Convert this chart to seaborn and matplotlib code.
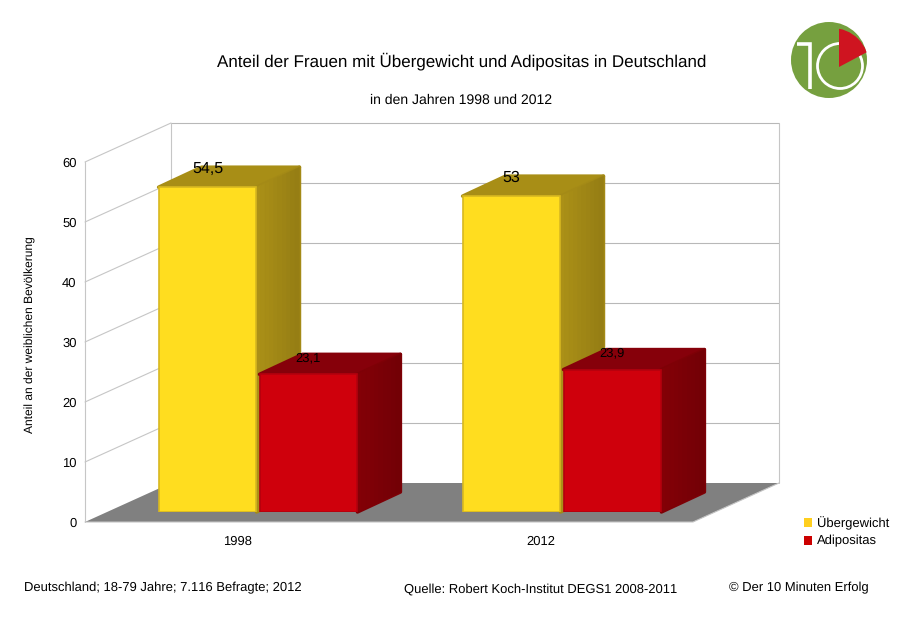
"""
Anteil der Frauen mit Uebergewicht und Adipositas, 3D look bars
"""

import numpy as np
import pandas as pd
import matplotlib.pyplot as plt
from matplotlib.colors import to_rgb
from matplotlib.patches import Circle, Patch, Polygon, Wedge
import seaborn as sns

# Chart data
years = ['1998', '2012']
groups = ['Übergewicht', 'Adipositas']
uebergewicht = [54.5, 53]
adipositas = [23.1, 23.9]
value_labels = ['54,5', '53', '23,1', '23,9']
y_ticks = [0, 10, 20, 30, 40, 50, 60]

title = 'Anteil der Frauen mit Übergewicht und Adipositas in Deutschland'
subtitle = 'in den Jahren 1998 und 2012'
y_label = 'Anteil an der weiblichen Bevölkerung'
note_left = 'Deutschland; 18-79 Jahre; 7.116 Befragte; 2012'
note_mid = 'Quelle: Robert Koch-Institut DEGS1 2008-2011'
note_right = '© Der 10 Minuten Erfolg'

# Colours
front_colors = ['#ffdd1f', '#cf000c']
edge_colors = ['#d8b820', '#b4000e']
top_colors = ['#a88e16', '#86000a']
side_colors = ['#a48a16', '#7e0006']
legend_colors = ['#ffcf1f', '#cc0000']
wall_color = '#b8b8b8'
floor_color = '#808080'

# Figure size in pixels
W, H = 900, 622

sns.set_theme(style='white')
plt.rcParams['font.family'] = ['Liberation Sans', 'DejaVu Sans']
plt.rcParams['text.hinting'] = 'none'
plt.rcParams['text.hinting_factor'] = 1

df = pd.DataFrame({'Jahr': years * 2,
                   'Gruppe': np.repeat(groups, len(years)),
                   'Anteil': uebergewicht + adipositas})

fig = plt.figure(figsize=(W / 100, H / 100), dpi=100, facecolor='white')


def px_rect(left, top, right, bottom):
    'Axes rectangle from pixel edges'
    return [left / W, 1 - bottom / H, (right - left) / W, (bottom - top) / H]


#%%

# Canvas in pixel units for the walls, floor and logo
canvas = fig.add_axes([0, 0, 1, 1], zorder=0)
canvas.set_xlim(0, W)
canvas.set_ylim(H, 0)
canvas.axis('off')

x0, x1, y_base = 85, 693, 522
unit = 6
wall_dx, wall_dy = 86, 39

# Floor
canvas.add_patch(Polygon([(x0, y_base), (x1, y_base),
                          (x1 + wall_dx, y_base - wall_dy),
                          (x0 + wall_dx, y_base - wall_dy)],
                         facecolor=floor_color, edgecolor='none'))

# Wall lines for every tick
for t in y_ticks[1:]:
    y = y_base - t * unit
    canvas.plot([x0, x0 + wall_dx], [y, y - wall_dy], color='#c6c6c6', lw=0.8)
    canvas.plot([x0 + wall_dx, x1 + wall_dx], [y - wall_dy, y - wall_dy],
                color=wall_color, lw=0.8)

# Wall verticals and base line
top = y_base - y_ticks[-1] * unit
canvas.plot([x0, x0], [y_base, top], color='#c6c6c6', lw=0.8)
for x in [x0 + wall_dx, x1 + wall_dx]:
    canvas.plot([x, x], [y_base - wall_dy, top - wall_dy], color='#c6c6c6', lw=0.8)
canvas.plot([x0, x1, x1 + wall_dx], [y_base, y_base, y_base - wall_dy],
            color='#c4c4c4', lw=0.8)

#%%

# Front plane holds the axis labels
ax_front = fig.add_axes(px_rect(x0, top, x1, y_base), zorder=1)
ax_front.patch.set_alpha(0)
ax_front.set_xlim(-0.5, 1.5)
ax_front.set_ylim(y_ticks[0], y_ticks[-1])
ax_front.set_xticks(range(len(years)), years)
ax_front.set_yticks(y_ticks)
ax_front.tick_params(axis='both', length=0, labelsize=9.4, labelcolor='black')
ax_front.tick_params(axis='x', pad=9.5)
ax_front.tick_params(axis='y', pad=6)
sns.despine(ax=ax_front, left=True, bottom=True)

#%%

# Bars sit in the middle of the floor depth
bar_unit = 5.96
ax_bars = fig.add_axes(px_rect(106, 512 - y_ticks[-1] * bar_unit, 714, 512), zorder=2)
ax_bars.patch.set_alpha(0)
sns.barplot(data=df, x='Jahr', y='Anteil', hue='Gruppe', order=years,
            hue_order=groups, palette=front_colors, width=0.664, gap=0.03,
            saturation=1, legend=False, ax=ax_bars)
ax_bars.set_xlim(-0.5, 1.5)
ax_bars.set_ylim(y_ticks[0], y_ticks[-1])
ax_bars.axis('off')

# Depth of a bar, in data units
depth_x = 43 / 304
depth_y = 20 / bar_unit
n_strips = 10

bars = ax_bars.patches
for i, (bar, text) in enumerate(zip(bars, value_labels)):
    group = i // len(years)
    xl, xr = bar.get_x(), bar.get_x() + bar.get_width()
    h = bar.get_height()
    z = 2 + 3 * group

    bar.set_zorder(z + 1)
    bar.set_edgecolor(edge_colors[group])
    bar.set_linewidth(1.2)

    # Top and side faces, outlined so the corners look round
    top_face = [(xl, h), (xr, h), (xr + depth_x, h + depth_y), (xl + depth_x, h + depth_y)]
    side_face = [(xr, 0), (xr + depth_x, depth_y), (xr + depth_x, h + depth_y), (xr, h)]
    ax_bars.add_patch(Polygon(top_face, facecolor=top_colors[group],
                              edgecolor=top_colors[group], lw=2.5,
                              joinstyle='round', zorder=z, clip_on=False))
    ax_bars.add_patch(Polygon(side_face, facecolor=side_colors[group],
                              edgecolor=side_colors[group], lw=2.5,
                              joinstyle='round', zorder=z, clip_on=False))

    # Soft shading across the side face
    for k in range(n_strips):
        a = k / n_strips
        b = (k + 1) / n_strips
        shade = 1.04 - 0.14 * a
        rgb = np.clip(np.array(to_rgb(side_colors[group])) * shade, 0, 1)
        strip = [(xr + a * depth_x, a * depth_y), (xr + b * depth_x, b * depth_y),
                 (xr + b * depth_x, h + b * depth_y), (xr + a * depth_x, h + a * depth_y)]
        ax_bars.add_patch(Polygon(strip, facecolor=rgb, edgecolor=rgb, lw=0.3,
                                  zorder=z, clip_on=False))

    # Value label at the back edge of the top face
    size = 11.5 if group == 0 else 9.0
    drop = 0.2 if group == 0 else 0.6
    ax_bars.text((xl + xr) / 2, h + depth_y - drop, text, ha='center', va='center',
                 fontsize=size, color='black', zorder=20, clip_on=False)

#%%

# Titles and notes
fig.text(461.5 / W, 1 - 61 / H, title, ha='center', va='center', fontsize=12.2, color='black')
fig.text(461.5 / W, 1 - 100 / H, subtitle, ha='center', va='center', fontsize=10.3, color='black')
fig.text(30.5 / W, 1 - 335 / H, y_label, rotation=90, ha='center', va='center',
         fontsize=8.65, color='black')
fig.text(24 / W, 1 - 588 / H, note_left, ha='left', va='center', fontsize=9.28, color='black')
fig.text(404 / W, 1 - 589 / H, note_mid, ha='left', va='center', fontsize=9.23, color='black')
fig.text(729 / W, 1 - 588 / H, note_right, ha='left', va='center', fontsize=9.28, color='black')

# Legend
handles = [Patch(facecolor=c, edgecolor='none', label=g) for c, g in zip(legend_colors, groups)]
fig.legend(handles=handles, loc='upper left', bbox_to_anchor=(799 / W, 1 - 511 / H),
           frameon=False, fontsize=9.1, handlelength=0.65, handleheight=0.65,
           handletextpad=0.4, labelspacing=0.45, borderpad=0, borderaxespad=0.4,
           labelcolor='black')

#%%

# Logo
canvas.add_patch(Circle((829, 60), 38, facecolor='#76a03f', edgecolor='none'))
canvas.add_patch(Circle((840, 66), 22.5, facecolor='none', edgecolor='white', lw=2.0))
canvas.plot([797, 809.5, 809.5], [44, 44, 89], color='white', lw=2.6,
            solid_joinstyle='miter', solid_capstyle='butt')
red_part = Wedge((839, 67), 45, -90, -28, facecolor='#cf1420', edgecolor='none')
canvas.add_patch(red_part)
red_part.set_clip_path(Circle((832, 65), 37, transform=canvas.transData))

fig.savefig('out.png', dpi=100)
